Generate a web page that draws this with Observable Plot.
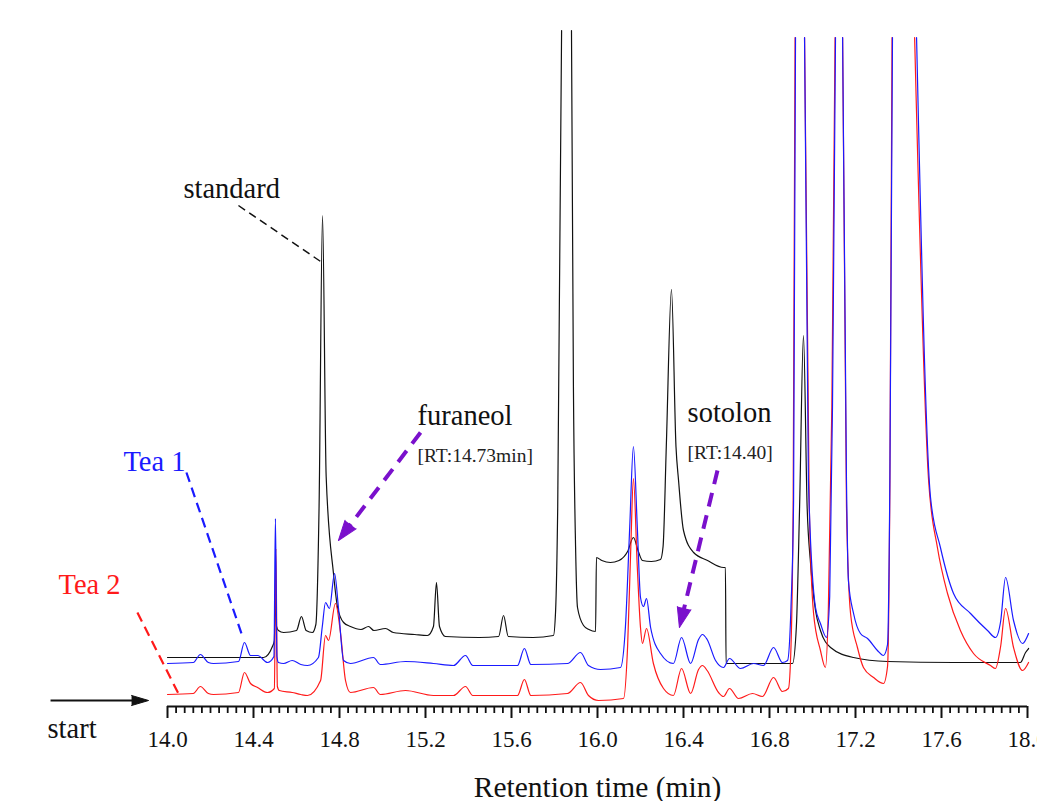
<!DOCTYPE html>
<html><head><meta charset="utf-8">
<script src="https://cdn.jsdelivr.net/npm/d3@7"></script>
<script src="https://cdn.jsdelivr.net/npm/@observablehq/plot@0.6"></script>
<style>html,body{margin:0;padding:0;background:#fff;overflow:hidden}</style>
</head><body><div id="chart"></div>
<script>
// ---- data: [retention time (min), detector response (arbitrary units)]; null = off-scale apex
const standardTrace = [[14.000,49],[14.200,49],[14.447,49],[14.488,60],[14.497,66],[14.502,116],[14.507,80],[14.516,76],[14.540,74],[14.600,76],[14.623,90],[14.645,76],[14.674,74],[14.690,82],[14.705,200],[14.721,491],[14.738,230],[14.772,133],[14.791,99],[14.819,84],[14.851,80],[14.900,77],[14.935,80],[14.960,76],[15.014,78],[15.050,74],[15.150,72],[15.209,71],[15.237,80],[15.251,124],[15.265,80],[15.293,70],[15.450,69],[15.540,70],[15.563,91],[15.585,70],[15.700,69],[15.795,71],[15.805,95],[15.815,200],[15.833,676],[15.856,null],[15.879,676],[15.888,320],[15.898,160],[15.907,99],[15.935,81],[15.960,77],[15.991,75],[15.995,149],[16.020,146],[16.060,144],[16.100,146],[16.140,155],[16.167,169],[16.190,155],[16.209,146],[16.250,145],[16.293,147],[16.305,160],[16.320,260],[16.344,417],[16.365,260],[16.377,226],[16.400,176],[16.447,154],[16.512,146],[16.586,139],[16.595,139],[16.598,43],[16.907,43],[16.925,80],[16.940,200],[16.958,371],[16.975,200],[16.991,143],[17.014,96],[17.037,76],[17.084,59],[17.191,49],[17.349,45],[17.656,44],[17.967,44],[17.991,54],[18.005,58]];
const tea1Trace = [[14.000,43],[14.120,44],[14.153,52],[14.190,44],[14.214,43],[14.330,45],[14.358,64],[14.386,51],[14.420,51],[14.465,44],[14.495,50],[14.502,188],[14.509,50],[14.516,44],[14.540,43],[14.580,46],[14.620,42],[14.651,41],[14.702,49],[14.720,80],[14.735,104],[14.753,98],[14.777,133],[14.795,99],[14.819,46],[14.851,43],[14.958,49],[14.990,42],[15.107,45],[15.237,43],[15.330,41],[15.386,51],[15.420,41],[15.628,41],[15.660,58],[15.690,42],[15.860,43],[15.921,54],[15.958,41],[16.014,37],[16.107,39],[16.130,80],[16.150,180],[16.167,260],[16.185,180],[16.200,109],[16.214,100],[16.228,108],[16.247,79],[16.293,53],[16.353,43],[16.391,69],[16.433,43],[16.470,67],[16.488,72],[16.510,67],[16.549,46],[16.586,39],[16.614,48],[16.665,38],[16.726,43],[16.772,41],[16.819,59],[16.860,44],[16.884,46],[16.900,100],[16.912,206],[16.921,669],[16.942,null],[16.963,669],[16.981,226],[17.014,99],[17.037,83],[17.065,69],[17.080,110],[17.093,300],[17.107,669],[17.124,null],[17.140,669],[17.158,226],[17.167,126],[17.191,93],[17.223,73],[17.256,68],[17.302,56],[17.330,51],[17.349,62],[17.360,230],[17.372,669],[17.430,null],[17.484,669],[17.549,209],[17.595,159],[17.656,113],[17.735,93],[17.814,76],[17.851,69],[17.875,85],[17.898,129],[17.935,86],[17.977,63],[18.005,73]];
const tea2Trace = [[14.000,12],[14.120,13],[14.153,20],[14.190,13],[14.214,12],[14.330,14],[14.358,34],[14.386,23],[14.419,19],[14.465,14],[14.497,18],[14.504,158],[14.511,20],[14.520,16],[14.580,14],[14.620,12],[14.651,11],[14.712,26],[14.735,71],[14.749,66],[14.781,103],[14.805,73],[14.828,26],[14.851,14],[14.958,19],[14.990,12],[15.107,16],[15.237,11],[15.330,11],[15.386,20],[15.420,11],[15.628,11],[15.660,27],[15.690,11],[15.860,13],[15.921,24],[15.958,11],[16.005,6],[16.121,8],[16.140,60],[16.155,160],[16.167,228],[16.185,140],[16.200,79],[16.209,63],[16.228,78],[16.260,43],[16.307,18],[16.353,11],[16.391,38],[16.433,13],[16.470,37],[16.488,41],[16.510,36],[16.563,14],[16.586,10],[16.614,18],[16.656,8],[16.721,13],[16.767,10],[16.819,29],[16.860,15],[16.888,18],[16.900,60],[16.910,200],[16.919,669],[16.941,null],[16.963,669],[16.985,200],[17.005,93],[17.037,56],[17.060,39],[17.074,100],[17.090,300],[17.105,669],[17.122,null],[17.140,669],[17.158,200],[17.177,93],[17.209,59],[17.237,39],[17.284,29],[17.330,23],[17.349,40],[17.360,226],[17.370,669],[17.425,null],[17.475,669],[17.540,226],[17.581,159],[17.628,113],[17.688,76],[17.749,53],[17.828,41],[17.851,38],[17.875,60],[17.898,98],[17.935,59],[17.977,36],[18.005,44]];

const majorTicks = [14.0,14.4,14.8,15.2,15.6,16.0,16.4,16.8,17.2,17.6,18.0];
const tickLabels = ["14.0","14.4","14.8","15.2","15.6","16.0","16.4","16.8","17.2","17.6","18.0"];
const minorTicks = d3.range(0, 101).filter(i => i % 10 !== 0).map(i => 14 + i * 0.04);

// annotations (anchor points in data units)
const seriesLabels = [
  {name: "standard", t: 14.074, v: 509},
  {name: "Tea 1", t: 13.795, v: 236},
  {name: "Tea 2", t: 13.493, v: 113}
];
const leaderLines = [
  {name: "standard", t1: 14.330, v1: 501, t2: 14.719, v2: 444},
  {name: "Tea 1", t1: 14.088, v1: 234, t2: 14.344, v2: 73},
  {name: "Tea 2", t1: 13.860, v1: 94, t2: 14.060, v2: 9}
];
const compoundLabels = [
  {name: "furaneol", rt: "[RT:14.73min]", t: 15.163, v: 282, vRt: 245},
  {name: "sotolon", rt: "[RT:14.40]", t: 16.419, v: 285, vRt: 248}
];
const compoundArrows = [
  {t1: 15.177, v1: 274, t2: 14.795, v2: 166},
  {t1: 16.558, v1: 236, t2: 16.381, v2: 79}
];
const startArrow = [{t1: 13.456, v1: 6, t2: 13.912, v2: 6}];
const startLabel = [{text: "start", t: 13.442, v: -31}];
const axisTitle = [{text: "Retention time (min)", t: 16.0, v: -90}];

// ---- layout
const W = 1037, H = 801, ML = 167, MR = 10, MT = 30, MB = 95;
const pxPerMin = (W - ML - MR) / 4;
const pxPerUnit = (H - MT - MB) / 676;
const colors = {"standard": "#111111", "Tea 1": "#1a1aff", "Tea 2": "#ff1a1a"};
const purple = "#7a10cc";
const serif = "'Liberation Serif', 'Times New Roman', Times, serif";

function angle(a) {
  const dx = (a.t2 - a.t1) * pxPerMin, dy = (a.v2 - a.v1) * pxPerUnit;
  return Math.atan2(dx, dy) * 180 / Math.PI;
}
function shorten(a, px) {
  const dx = (a.t2 - a.t1) * pxPerMin, dy = (a.v2 - a.v1) * pxPerUnit;
  const L = Math.hypot(dx, dy);
  return {...a, t2: a.t2 - dx / L * px / pxPerMin, v2: a.v2 - dy / L * px / pxPerUnit};
}

const chart = Plot.plot({
  width: W, height: H, marginLeft: ML, marginRight: MR, marginTop: MT, marginBottom: MB,
  style: {fontFamily: serif, background: "white", color: "#111"},
  x: {domain: [14, 18]},
  y: {domain: [0, 676], axis: null},
  marks: [
    Plot.line(standardTrace, {stroke: colors["standard"], strokeWidth: 1.2, curve: "monotone-x"}),
    Plot.line(tea2Trace, {stroke: colors["Tea 2"], strokeWidth: 1.2, curve: "monotone-x"}),
    Plot.line(tea1Trace, {stroke: colors["Tea 1"], strokeWidth: 1.2, curve: "monotone-x"}),
    Plot.ruleY([0], {stroke: "#111", strokeWidth: 2.2}),
    Plot.axisX(minorTicks, {tickSize: 7, strokeWidth: 1.8, tickFormat: () => "", label: null}),
    Plot.axisX(majorTicks, {tickSize: 12, strokeWidth: 2, tickPadding: 12, fontSize: 23,
      tickFormat: d => tickLabels[majorTicks.findIndex(m => Math.abs(m - d) < 1e-9)], label: null}),
    Plot.text(axisTitle, {x: "t", y: "v", text: "text", fontSize: 29.5, lineAnchor: "bottom", fill: "#111"}),
    // series labels and leaders
    Plot.text(seriesLabels, {x: "t", y: "v", text: "name", textAnchor: "start", lineAnchor: "bottom",
      fontSize: 28.5, fill: d => colors[d.name]}),
    Plot.link(leaderLines.filter(d => d.name === "standard"), {x1: "t1", y1: "v1", x2: "t2", y2: "v2",
      stroke: colors["standard"], strokeWidth: 1.5, strokeDasharray: "8,5"}),
    Plot.link(leaderLines.filter(d => d.name !== "standard"), {x1: "t1", y1: "v1", x2: "t2", y2: "v2",
      stroke: d => colors[d.name], strokeWidth: 2.2, strokeDasharray: "10,6"}),
    // start arrow
    Plot.link(startArrow.map(d => shorten(d, 8)), {x1: "t1", y1: "v1", x2: "t2", y2: "v2", stroke: "#111", strokeWidth: 2}),
    Plot.vector(startArrow, {x: "t2", y: "v2", rotate: angle, length: 17, r: 5, shape: "spike", anchor: "end",
      fill: "#111", stroke: "#111", strokeWidth: 1}),
    Plot.text(startLabel, {x: "t", y: "v", text: "text", textAnchor: "start", lineAnchor: "bottom", fontSize: 28.5, fill: "#111"}),
    // compound annotations
    Plot.text(compoundLabels, {x: "t", y: "v", text: "name", textAnchor: "start", lineAnchor: "bottom", fontSize: 28.5, fill: "#111"}),
    Plot.text(compoundLabels, {x: "t", y: "vRt", text: "rt", textAnchor: "start", lineAnchor: "bottom", fontSize: 19.5, fill: "#222"}),
    Plot.link(compoundArrows.map(d => shorten(d, 10)), {x1: "t1", y1: "v1", x2: "t2", y2: "v2",
      stroke: purple, strokeWidth: 4, strokeDasharray: "14,9"}),
    Plot.vector(compoundArrows, {x: "t2", y: "v2", rotate: angle, length: 20, r: 7, shape: "spike", anchor: "end",
      fill: purple, stroke: purple, strokeWidth: 1})
  ]
});
document.getElementById("chart").appendChild(chart);
</script></body></html>
